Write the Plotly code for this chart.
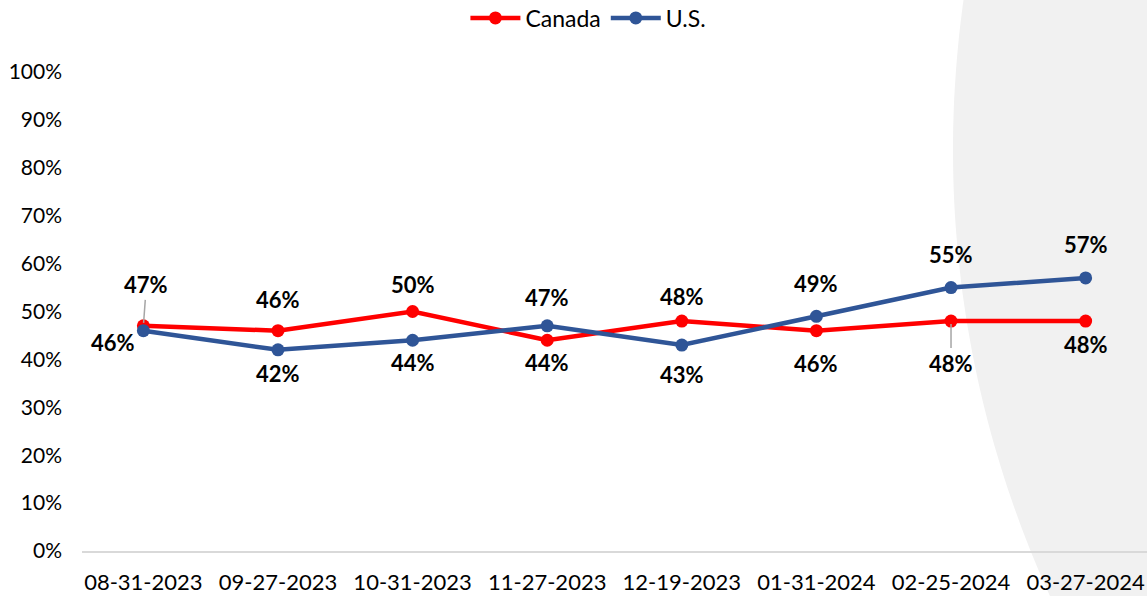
import numpy as np
import plotly.graph_objects as go

dates = ["08-31-2023", "09-27-2023", "10-31-2023", "11-27-2023",
         "12-19-2023", "01-31-2024", "02-25-2024", "03-27-2024"]
canada = [0.47, 0.46, 0.50, 0.44, 0.48, 0.46, 0.48, 0.48]
us = [0.46, 0.42, 0.44, 0.47, 0.43, 0.49, 0.55, 0.57]

# label offsets (pixels): (xshift, yshift)
canada_off = [None, (0, 31), (0, 27), (0, -22), (0, 25), (0, -33), None, (0, -23)]
us_off = [(-30, -12), (0, -24), (0, -22), (0, 28), (0, -29), (0, 33), (0, 33), (0, 33)]
# leader-line labels (ax, ay)
canada_leader = {0: (3, -41), 6: (0, 42)}

RED = "#FF0000"
BLUE = "#2F5597"
FONT = "Lato"

fig = go.Figure()
fig.add_trace(go.Scatter(x=dates, y=canada, name="Canada", mode="lines+markers",
                         line=dict(color=RED, width=4.5), marker=dict(size=13, color=RED),
                         cliponaxis=False))
fig.add_trace(go.Scatter(x=dates, y=us, name="U.S.", mode="lines+markers",
                         line=dict(color=BLUE, width=4.5), marker=dict(size=13, color=BLUE),
                         cliponaxis=False))

ann = []
lab_font = dict(family=FONT, size=22, color="black", weight="bold")
for i, d in enumerate(dates):
    if canada_off[i] is not None:
        xs, ys = canada_off[i]
        ann.append(dict(x=d, y=canada[i], text=f"{round(canada[i]*100)}%", showarrow=False,
                        xshift=xs, yshift=ys, font=lab_font))
    if i in canada_leader:
        ax, ay = canada_leader[i]
        ann.append(dict(x=d, y=canada[i], text=f"{round(canada[i]*100)}%", showarrow=True,
                        arrowhead=0, arrowwidth=1.5, arrowcolor="#A6A6A6", ax=ax, ay=ay,
                        standoff=3, font=lab_font))
    xs, ys = us_off[i]
    ann.append(dict(x=d, y=us[i], text=f"{round(us[i]*100)}%", showarrow=False,
                    xshift=xs, yshift=ys, font=lab_font))

# background curved panel (pixel geometry converted to paper coords)
L, T, W, H = 82, 72, 1065, 479
cx, cy, R = 2027, 150, 1074
pys = np.linspace(-5, 600, 60)
pxs = cx - np.sqrt(R**2 - (pys - cy)**2)
pts = [((px - L) / W, (T + H - py) / H) for px, py in zip(pxs, pys)]
path = "M " + " L ".join(f"{x:.4f},{y:.4f}" for x, y in pts)
path += f" L {(1200 - L) / W:.4f},{(T + H - 600) / H:.4f} L {(1200 - L) / W:.4f},{(T + H + 5) / H:.4f} Z"

fig.update_layout(
    width=1147, height=596,
    margin=dict(l=L, r=0, t=T, b=596 - T - H, autoexpand=False),
    paper_bgcolor="white", plot_bgcolor="rgba(0,0,0,0)",
    font=dict(family=FONT, size=21, color="black"),
    showlegend=True,
    legend=dict(orientation="h", xref="container", x=0.513, xanchor="center",
                yref="container", y=1 - 18 / 596, yanchor="middle",
                font=dict(family=FONT, size=23), itemwidth=50, bgcolor="rgba(0,0,0,0)"),
    shapes=[dict(type="path", xref="paper", yref="paper", path=path,
                 fillcolor="#F1F1F1", line=dict(width=0), layer="below")],
    annotations=ann,
    xaxis=dict(type="category", showgrid=False, showline=True, linecolor="#D9D9D9",
               linewidth=1.5, ticks="", ticklabelstandoff=11, automargin=False,
               tickfont=dict(family=FONT, size=22), zeroline=False),
    yaxis=dict(range=[0, 1], tickvals=[i / 10 for i in range(11)], tickformat=".0%",
               showgrid=False, showline=False, ticks="", zeroline=False, automargin=False,
               ticklabelstandoff=19, tickfont=dict(family=FONT, size=21)),
)

fig.write_html("out.html", config={"displayModeBar": False},
               post_script="document.body.style.margin='0';")
